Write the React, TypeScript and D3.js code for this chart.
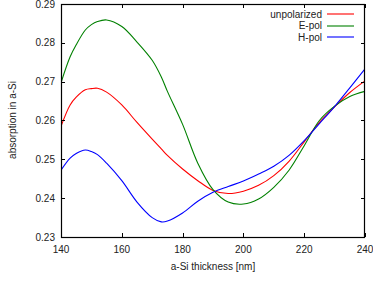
import React, { useEffect, useRef } from 'react';
import * as d3 from 'd3';

// thickness grid (nm) and absorption values
const thickness = [140, 143, 145, 148, 150, 152, 155, 160, 165, 170, 173, 175, 180, 185, 190, 195, 200, 205, 210, 215, 220, 225, 230, 235, 240];
const unpolarized = [0.2585, 0.2640, 0.2660, 0.2679, 0.2682, 0.2683, 0.2673, 0.2640, 0.2595, 0.2552, 0.2527, 0.2510, 0.2475, 0.2445, 0.2420, 0.2412, 0.2418, 0.2433, 0.2458, 0.2495, 0.2545, 0.2595, 0.2635, 0.2672, 0.2702];
const ePol = [0.2697, 0.2764, 0.2795, 0.2833, 0.2847, 0.2855, 0.2859, 0.2842, 0.2802, 0.2755, 0.2712, 0.2675, 0.2590, 0.2490, 0.2422, 0.2390, 0.2385, 0.2398, 0.2428, 0.2472, 0.2535, 0.2600, 0.2637, 0.2662, 0.2675];
const hPol = [0.2472, 0.2503, 0.2515, 0.2524, 0.2520, 0.2512, 0.2490, 0.2445, 0.2390, 0.2350, 0.2339, 0.2341, 0.2362, 0.2392, 0.2415, 0.2430, 0.2444, 0.2462, 0.2482, 0.2510, 0.2548, 0.2592, 0.2636, 0.2684, 0.2733];

const xTicks = [140, 160, 180, 200, 220, 240];
const yTicks = [0.23, 0.24, 0.25, 0.26, 0.27, 0.28, 0.29];

const seriesNames = ['unpolarized', 'E-pol', 'H-pol'];
const seriesColors = ['#ff0000', '#008000', '#0000ff'];
const seriesValues = [unpolarized, ePol, hPol];

const W = 373;
const H = 282;
const FONT = '"Liberation Sans", Arial, sans-serif';

const App = () => {
  const ref = useRef<SVGSVGElement>(null);

  useEffect(() => {
    if (!ref.current) return;
    const svg = d3.select(ref.current);
    svg.selectAll('*').remove();

    const x = d3.scaleLinear().domain([140, 240]).range([61, 365]);
    const y = d3.scaleLinear().domain([0.23, 0.29]).range([237, 4]);
    const [x0, x1] = x.range();
    const [y0, y1] = y.range();
    const tick = 4;

    const g = svg.append('g');

    // curves, clipped to the plot box
    svg.append('defs').append('clipPath').attr('id', 'plotclip')
      .append('rect').attr('x', x0).attr('y', y1).attr('width', x1 - x0).attr('height', y0 - y1);

    const line = d3.line<number>()
      .x((_, i) => x(thickness[i]))
      .y(d => y(d))
      .curve(d3.curveCatmullRom.alpha(0.5));

    seriesValues.forEach((vals, k) => {
      g.append('path')
        .attr('d', line(vals))
        .attr('fill', 'none')
        .attr('stroke', seriesColors[k])
        .attr('stroke-width', 1.1)
        .attr('clip-path', 'url(#plotclip)');
    });

    // ticks (inward, mirrored)
    xTicks.forEach(t => {
      const px = Math.round(x(t)) + 0.5;
      g.append('line').attr('x1', px).attr('x2', px).attr('y1', y0).attr('y2', y0 - tick).attr('stroke', '#000');
      g.append('line').attr('x1', px).attr('x2', px).attr('y1', y1).attr('y2', y1 + tick).attr('stroke', '#000');
      g.append('text')
        .attr('x', x(t)).attr('y', 253)
        .attr('text-anchor', 'middle')
        .style('font-family', FONT).style('font-size', '10px').attr('fill', '#222')
        .text(t);
    });
    yTicks.forEach(t => {
      const py = Math.round(y(t)) + 0.5;
      g.append('line').attr('x1', x0).attr('x2', x0 + tick).attr('y1', py).attr('y2', py).attr('stroke', '#000');
      g.append('line').attr('x1', x1).attr('x2', x1 - tick).attr('y1', py).attr('y2', py).attr('stroke', '#000');
      g.append('text')
        .attr('x', 55).attr('y', y(t) + 3.5)
        .attr('text-anchor', 'end')
        .style('font-family', FONT).style('font-size', '10px').attr('fill', '#222')
        .text(d3.format('.2f')(t));
    });

    // frame
    g.append('rect')
      .attr('x', x0 + 0.5).attr('y', y1 + 0.5)
      .attr('width', x1 - x0 - 1).attr('height', y0 - y1)
      .attr('fill', 'none').attr('stroke', '#000').attr('stroke-width', 1.2);

    // axis titles
    g.append('text')
      .attr('x', 213).attr('y', 270)
      .attr('text-anchor', 'middle')
      .style('font-family', FONT).style('font-size', '10px').attr('fill', '#222')
      .text('a-Si thickness [nm]');
    g.append('text')
      .attr('transform', 'translate(16,120) rotate(-90)')
      .attr('text-anchor', 'middle')
      .style('font-family', FONT).style('font-size', '10px').attr('fill', '#222')
      .text('absorption in a-Si');

    // legend
    seriesNames.forEach((name, k) => {
      const ly = 14 + k * 11.5;
      g.append('text')
        .attr('x', 322).attr('y', ly + 3.5)
        .attr('text-anchor', 'end')
        .style('font-family', FONT).style('font-size', '10px').attr('fill', '#222')
        .text(name);
      g.append('line')
        .attr('x1', 327).attr('x2', 354).attr('y1', Math.round(ly)).attr('y2', Math.round(ly))
        .attr('stroke', seriesColors[k]).attr('stroke-width', 1.1);
    });
  }, []);

  return (
    <svg
      ref={ref}
      width={W}
      height={H}
      style={{ position: 'absolute', left: 0, top: 0, background: '#fff' }}
    />
  );
};

export default App;
